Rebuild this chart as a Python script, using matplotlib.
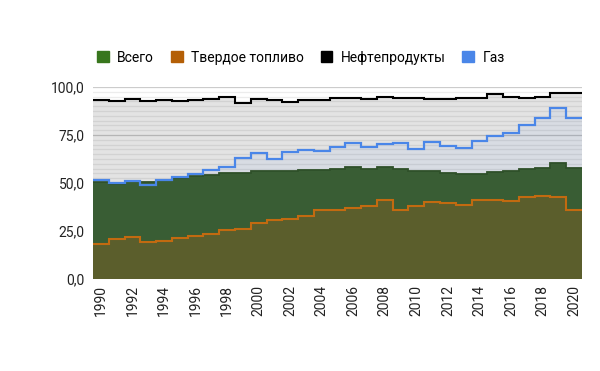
import numpy as np
import matplotlib
matplotlib.use("Agg")
import matplotlib.pyplot as plt
from matplotlib.patches import Patch

plt.rcParams['font.family'] = ['Roboto', 'DejaVu Sans']

years = list(range(1990, 2021))
total = [50.3, 49.7, 51.2, 50.4, 51.5, 52.7, 53.4, 54.4, 55.3, 55.3, 56.4, 56.0, 56.2, 56.7, 56.7, 57.4,
         58.1, 57.4, 58.5, 57.4, 56.4, 56.4, 55.3, 54.6, 54.6, 55.7, 56.0, 57.1, 57.8, 60.2, 57.6]
solid = [18.2, 20.8, 22.0, 19.4, 20.0, 21.1, 22.3, 23.4, 25.3, 26.2, 29.2, 30.5, 31.4, 32.8, 35.8, 35.8,
         37.2, 37.9, 41.4, 36.1, 37.9, 40.3, 39.8, 38.7, 41.2, 41.0, 40.8, 42.8, 43.3, 42.8, 35.8]
oil = [93.2, 92.7, 94.0, 92.9, 93.4, 92.9, 93.3, 93.6, 95.0, 91.6, 93.7, 93.4, 92.1, 93.3, 93.0, 94.1,
       94.2, 93.5, 94.6, 94.2, 94.2, 93.5, 94.0, 94.3, 94.4, 96.5, 94.7, 94.1, 94.7, 96.8, 96.8]
gas = [51.5, 50.1, 50.9, 48.7, 51.4, 52.9, 54.5, 57.0, 58.3, 62.8, 65.6, 62.3, 66.3, 67.1, 66.7, 68.9,
       70.8, 69.0, 70.2, 70.6, 67.9, 71.3, 69.3, 68.4, 71.8, 74.5, 75.9, 80.3, 83.6, 89.3, 84.0]
series_names = ['Всего', 'Твердое топливо', 'Нефтепродукты', 'Газ']
y_ticks = [0, 25, 50, 75, 100]
y_tick_labels = ['0,0', '25,0', '50,0', '75,0', '100,0']

c_total = '#38761d'
c_solid = '#b45f06'
c_oil = '#000000'
c_gas = '#4a86e8'

fig = plt.figure(figsize=(6.0, 3.71), dpi=100)
ax = fig.add_axes([0.155, 0.248, 0.815, 0.5175])

edges = np.array(years + [years[-1] + 1]) - 0.5

# gridlines
for v in np.arange(0, 100.01, 2.5):
    major = abs(v % 25) < 1e-6
    ax.axhline(v, color='#cccccc' if major else '#ececec', lw=0.9, zorder=0)

ax.stairs(oil, edges, fill=True, baseline=0, color='#000000', alpha=0.11, zorder=1, lw=0)
ax.stairs(gas, edges, fill=True, baseline=0, color=c_gas, alpha=0.07, zorder=2, lw=0)
ax.stairs(total, edges, fill=True, baseline=0, color='#395d34', zorder=3, lw=0)
ax.stairs(solid, edges, fill=True, baseline=0, color='#b8621a', alpha=0.27, zorder=4, lw=0)

ax.stairs(total, edges, baseline=None, color='#2f5029', lw=1.3, zorder=5)
ax.stairs(solid, edges, baseline=None, color='#c26a10', lw=1.5, zorder=6)
ax.stairs(oil, edges, baseline=None, color=c_oil, lw=1.5, zorder=7)
ax.stairs(gas, edges, baseline=None, color=c_gas, lw=1.6, zorder=8)

ax.set_xlim(edges[0], edges[-1])
ax.set_ylim(0, 100)
ax.set_yticks(y_ticks)
ax.set_yticklabels(y_tick_labels, fontsize=10, color='#222222')
ax.set_xticks(years[::2])
ax.set_xticklabels([str(y) for y in years[::2]], rotation=90, fontsize=10, color='#222222')
ax.tick_params(length=0, pad=6)
ax.tick_params(axis='x', pad=4)
for s in ax.spines.values():
    s.set_visible(False)

handles = [Patch(color=c, label=n) for c, n in zip([c_total, c_solid, c_oil, c_gas], series_names)]
fig.legend(handles=handles, loc='center left', bbox_to_anchor=(0.162, 0.845), ncol=4, frameon=False,
           fontsize=10, handlelength=0.85, handleheight=0.85, handletextpad=0.6, columnspacing=1.2,
           borderaxespad=0, borderpad=0)

fig.savefig('out.png', dpi=100)
